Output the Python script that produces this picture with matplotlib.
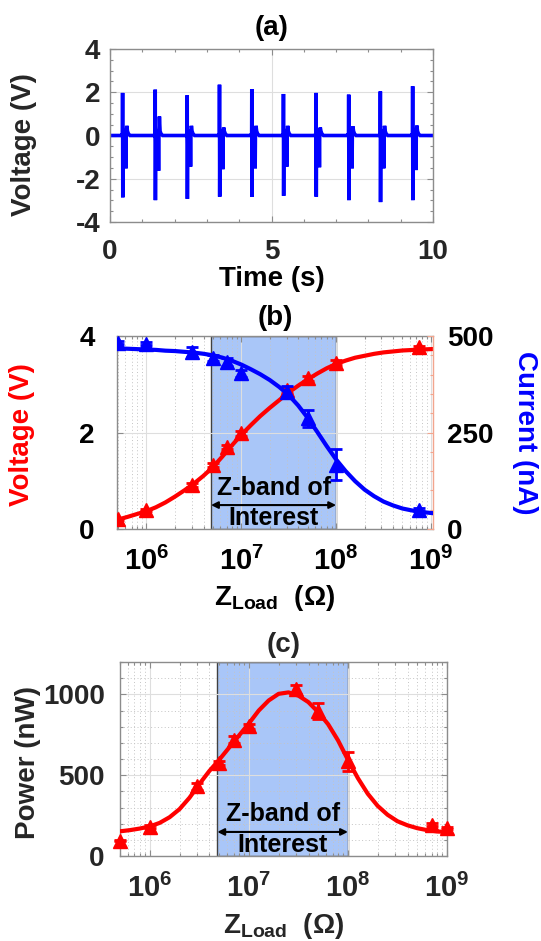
import numpy as np
import matplotlib
matplotlib.use("Agg")
import matplotlib.pyplot as plt
from matplotlib.ticker import MultipleLocator, FixedLocator, LogLocator, NullFormatter, FixedFormatter
import matplotlib.transforms as mtransforms

plt.rcParams['font.family'] = ['Liberation Sans', 'DejaVu Sans']
plt.rcParams['font.weight'] = 'bold'
plt.rcParams['mathtext.fontset'] = 'custom'
plt.rcParams['mathtext.rm'] = 'Liberation Sans:bold'
plt.rcParams['mathtext.bf'] = 'Liberation Sans:bold'
plt.rcParams['mathtext.it'] = 'Liberation Sans:bold'
plt.rcParams['mathtext.default'] = 'rm'
plt.rcParams['axes.unicode_minus'] = False

# ---------------- data ----------------
# (a) pulse train
pulse_t = [0.39, 1.40, 2.39, 3.39, 4.39, 5.37, 6.38, 7.39, 8.37, 9.37]
pulse_peak = [1.97, 2.12, 1.86, 2.35, 2.15, 1.92, 1.97, 1.89, 2.04, 2.28]
pulse_trough = [-2.86, -2.99, -2.93, -2.83, -2.83, -2.79, -2.83, -2.99, -3.08, -2.99]
pulse_neg2 = [-1.52, -1.63, -1.44, -1.56, -1.52, -1.44, -1.47, -1.52, -1.52, -1.60]
pulse_pos2 = [0.45, 0.88, 0.45, 0.37, 0.45, 0.45, 0.37, 0.42, 0.45, 0.46]
ring_lo = -0.8
ring_hi = 0.3

# (b), (c) load sweep
z_load = [5e5, 1e6, 3e6, 5e6, 7e6, 1e7, 3e7, 5e7, 1e8, 7.5e8]
voltage = [0.21, 0.40, 0.92, 1.33, 1.70, 1.98, 2.88, 3.12, 3.45, 3.77]
voltage_err = [0.02, 0.02, 0.04, 0.04, 0.05, 0.05, 0.06, 0.05, 0.06, 0.03]
current = [482, 480, 459, 443, 432, 404, 356, 287, 166, 50]
current_err = [4, 4, 13, 8, 10, 9, 14, 22, 40, 4]

z_load_p = [5e5, 1e6, 3e6, 5e6, 7e6, 1e7, 3e7, 5e7, 1e8, 7e8, 1e9]
power = [95, 182, 430, 575, 720, 803, 1030, 896, 586, 193, 172]
power_err = [5, 8, 20, 15, 20, 15, 30, 50, 60, 10, 8]

# fitted curves
fit_logz = [5.69, 5.8, 5.9, 6.0, 6.1, 6.2, 6.3, 6.4, 6.5, 6.6, 6.7, 6.8, 6.9, 7.0, 7.1, 7.2,
            7.3, 7.4, 7.5, 7.6, 7.7, 7.8, 7.9, 8.0, 8.1, 8.2, 8.3, 8.4, 8.5, 8.6, 8.7, 8.8,
            8.9, 9.02]
fit_current = [468, 467, 466, 465, 464, 462, 461, 459, 457, 454, 450, 444, 436, 426, 414, 401,
               386, 368, 347, 320, 288, 252, 215, 180, 150, 124, 102, 85, 71, 61, 53, 48,
               44, 41]
fit_voltage = [0.19, 0.25, 0.31, 0.37, 0.45, 0.55, 0.67, 0.80, 0.94, 1.10, 1.28, 1.50, 1.73,
               1.95, 2.15, 2.34, 2.51, 2.67, 2.83, 2.97, 3.10, 3.22, 3.33, 3.42, 3.49, 3.55,
               3.59, 3.63, 3.66, 3.68, 3.70, 3.71, 3.72, 3.73]

fitp_logz = [5.69, 5.8, 5.9, 6.0, 6.1, 6.2, 6.3, 6.4, 6.5, 6.6, 6.7, 6.8, 6.9, 7.0, 7.1, 7.2,
             7.3, 7.4, 7.5, 7.6, 7.7, 7.8, 7.9, 8.0, 8.1, 8.2, 8.3, 8.4, 8.5, 8.6, 8.7, 8.8,
             8.9, 9.0]
fit_power = [152, 160, 170, 183, 205, 240, 290, 360, 445, 525, 595, 670, 745, 820, 900, 962,
             1003, 1012, 992, 952, 890, 815, 715, 595, 482, 385, 310, 255, 215, 190, 172, 160,
             152, 148]

band = [4.8e6, 1.0e8]

# ---------------- styling ----------------
BLUE = '#0000ff'
RED = '#ff0000'
BAND = '#a9c6f8'
SPINE = '#8c8c8c'
TXT = '#262626'
SALMON = '#f2a58e'
TICK_FS = 20
LOGTICK_FS = 21

fig = plt.figure(figsize=(5.41, 9.41), dpi=100)


def style_box(ax, color=SPINE):
    for s in ax.spines.values():
        s.set_color(color)
        s.set_linewidth(1.0)
    ax.tick_params(which='both', direction='in', top=True, right=True,
                   color=color, width=0.8)
    ax.tick_params(which='major', length=4)
    ax.tick_params(which='minor', length=2.5)


def place_ylabel(ax, x, y):
    ax.yaxis.set_label_coords(x, y)
    ax.yaxis.label.set_va('center')
    ax.yaxis.label.set_ha('center')


def place_xlabel(ax, y):
    ax.xaxis.set_label_coords(0.5, y)
    ax.xaxis.label.set_va('center')


# ---------------- (a) ----------------
axa = fig.add_axes([110/541, 1-222/941, 323/541, 173/941])
t_all = [0.0]
v_all = [0.0]
for t0, pk, tr, n2, p2 in zip(pulse_t, pulse_peak, pulse_trough, pulse_neg2, pulse_pos2):
    seq = [(-0.03, 0.0), (-0.01, 0.08), (-0.004, 0.0), (0.0, pk), (0.006, tr),
           (0.014, 0.15), (0.022, ring_lo), (0.030, ring_hi), (0.040, ring_lo),
           (0.050, 0.2), (0.060, ring_lo * 0.9), (0.072, ring_hi), (0.084, ring_lo * 0.7),
           (0.094, 0.1), (0.104, n2), (0.112, 0.0), (0.13, p2), (0.15, 0.2),
           (0.18, 0.08), (0.23, 0.0)]
    for dt, v in seq:
        t_all.append(t0 + dt)
        v_all.append(v)
t_all.append(10.0)
v_all.append(0.0)
axa.plot(t_all, v_all, color=BLUE, lw=2.6, solid_joinstyle='miter')
axa.set_xlim(0, 10)
axa.set_ylim(-4, 4)
axa.xaxis.set_major_locator(FixedLocator([0, 5, 10]))
axa.xaxis.set_minor_locator(MultipleLocator(1))
axa.yaxis.set_major_locator(FixedLocator([-4, -2, 0, 2, 4]))
axa.yaxis.set_minor_locator(MultipleLocator(0.5))
axa.grid(True, which='major', color='#dedede', lw=0.8)
style_box(axa)
axa.tick_params(axis='x', which='major', labelsize=TICK_FS, pad=12, labelcolor=TXT)
axa.tick_params(axis='y', which='major', labelsize=TICK_FS, pad=7, labelcolor=TXT)
axa.set_xlabel('Time (s)', fontsize=20, fontweight='bold', color='black')
place_xlabel(axa, -0.33)
axa.set_ylabel('Voltage (V)', fontsize=20, fontweight='bold', color=TXT)
place_ylabel(axa, -0.266, 0.45)
axa.set_title('(a)', fontsize=20, fontweight='bold', pad=10)


def log_axis(ax, xlim):
    ax.set_xscale('log')
    ax.set_xlim(*xlim)
    ax.xaxis.set_major_locator(FixedLocator([1e6, 1e7, 1e8, 1e9]))
    ax.xaxis.set_major_formatter(FixedFormatter(
        [r'$\mathbf{10^{6}}$', r'$\mathbf{10^{7}}$', r'$\mathbf{10^{8}}$', r'$\mathbf{10^{9}}$']))
    ax.xaxis.set_minor_locator(LogLocator(base=10, subs=np.arange(2, 10), numticks=20))
    ax.xaxis.set_minor_formatter(NullFormatter())


def band_note(ax, color_text='black'):
    ax.axvspan(band[0], band[1], facecolor=BAND, edgecolor='#404040', lw=1.0, zorder=1)
    trans = mtransforms.blended_transform_factory(ax.transData, ax.transAxes)
    xc = np.sqrt(band[0] * band[1])
    ax.annotate('', xy=(band[0], 0.124), xytext=(band[1], 0.124), xycoords=trans,
                textcoords=trans,
                arrowprops=dict(arrowstyle='<|-|>', color='black', lw=1.5,
                                mutation_scale=10, shrinkA=0, shrinkB=0), zorder=4)
    ax.text(xc, 0.215, 'Z-band of', transform=trans, ha='center', va='center',
            fontsize=18, fontweight='bold', color=color_text, zorder=5)
    ax.text(xc, 0.055, 'Interest', transform=trans, ha='center', va='center',
            fontsize=18, fontweight='bold', color=color_text, zorder=5)


# ---------------- (b) ----------------
axb = fig.add_axes([117/541, 1-529/941, 316/541, 193/941])
log_axis(axb, (4.9e5, 1.05e9))
band_note(axb)
axb.set_ylim(0, 4)
axb.yaxis.set_major_locator(FixedLocator([0, 2, 4]))
axb.grid(True, which='major', color='#dedede', lw=0.8)
axb.grid(True, which='minor', axis='x', color='#c4c4c4', lw=0.7, ls=(0, (1, 2.5)))
style_box(axb)
axb.tick_params(axis='y', right=False)
axb.spines['right'].set_visible(False)
fz = [10 ** v for v in fit_logz]
axb.plot(fz, fit_voltage, color=RED, lw=3, zorder=3)
axb.errorbar(z_load, voltage, yerr=voltage_err, fmt='^', color=RED, ms=10, lw=2,
             capsize=4, capthick=2, zorder=3)
axb.tick_params(axis='x', which='major', labelsize=LOGTICK_FS, pad=13, labelcolor='black')
axb.tick_params(axis='y', which='major', labelsize=TICK_FS, pad=16, labelcolor='black')
axb.set_ylabel('Voltage (V)', fontsize=20, fontweight='bold', color=RED)
place_ylabel(axb, -0.30, 0.49)
axb.set_xlabel(r'Z$_{\rm Load}$  (Ω)', fontsize=20, fontweight='bold')
place_xlabel(axb, -0.355)
axb.set_title('(b)', fontsize=20, fontweight='bold', pad=8)

axb2 = axb.twinx()
axb2.set_ylim(0, 500)
axb2.yaxis.set_major_locator(FixedLocator([0, 250, 500]))
axb2.yaxis.set_minor_locator(MultipleLocator(50))
for s in ['left', 'top', 'bottom']:
    axb2.spines[s].set_visible(False)
axb2.spines['right'].set_color(SALMON)
axb2.spines['right'].set_linewidth(1.0)
axb2.tick_params(axis='y', which='both', direction='in', color=SALMON, width=0.8)
axb2.tick_params(axis='y', which='major', length=4, labelsize=TICK_FS, pad=10, labelcolor='black')
axb2.tick_params(axis='y', which='minor', length=2.5)
axb2.plot(fz, fit_current, color=BLUE, lw=3, zorder=3)
axb2.errorbar(z_load, current, yerr=current_err, fmt='^', color=BLUE, ms=10, lw=2,
              capsize=4, capthick=2, zorder=3)
axb2.set_ylabel('Current (nA)', fontsize=20, fontweight='bold', color=BLUE, rotation=270)
place_ylabel(axb2, 1.291, 0.5)

# ---------------- (c) ----------------
axc = fig.add_axes([120/541, 1-856/941, 327/541, 194/941])
log_axis(axc, (5e5, 1e9))
band_note(axc)
axc.set_ylim(0, 1200)
axc.yaxis.set_major_locator(FixedLocator([0, 500, 1000]))
axc.yaxis.set_minor_locator(MultipleLocator(100))
axc.grid(True, which='major', color='#dedede', lw=0.8)
axc.grid(True, which='minor', color='#c4c4c4', lw=0.7, ls=(0, (1, 2.5)))
style_box(axc)
fpz = [10 ** v for v in fitp_logz]
axc.plot(fpz, fit_power, color=RED, lw=3, zorder=3)
axc.errorbar(z_load_p, power, yerr=power_err, fmt='^', color=RED, ms=10, lw=2,
             capsize=4, capthick=2, zorder=3, clip_on=False)
axc.tick_params(axis='x', which='major', labelsize=LOGTICK_FS, pad=13, labelcolor=TXT)
axc.tick_params(axis='y', which='major', labelsize=TICK_FS, pad=11, labelcolor=TXT)
axc.set_ylabel('Power (nW)', fontsize=20, fontweight='bold', color=TXT)
place_ylabel(axc, -0.281, 0.48)
axc.set_xlabel(r'Z$_{\rm Load}$  (Ω)', fontsize=20, fontweight='bold', color=TXT)
place_xlabel(axc, -0.36)
axc.set_title('(c)', fontsize=20, fontweight='bold', pad=7, color=TXT)

fig.savefig('out.png', dpi=100)
